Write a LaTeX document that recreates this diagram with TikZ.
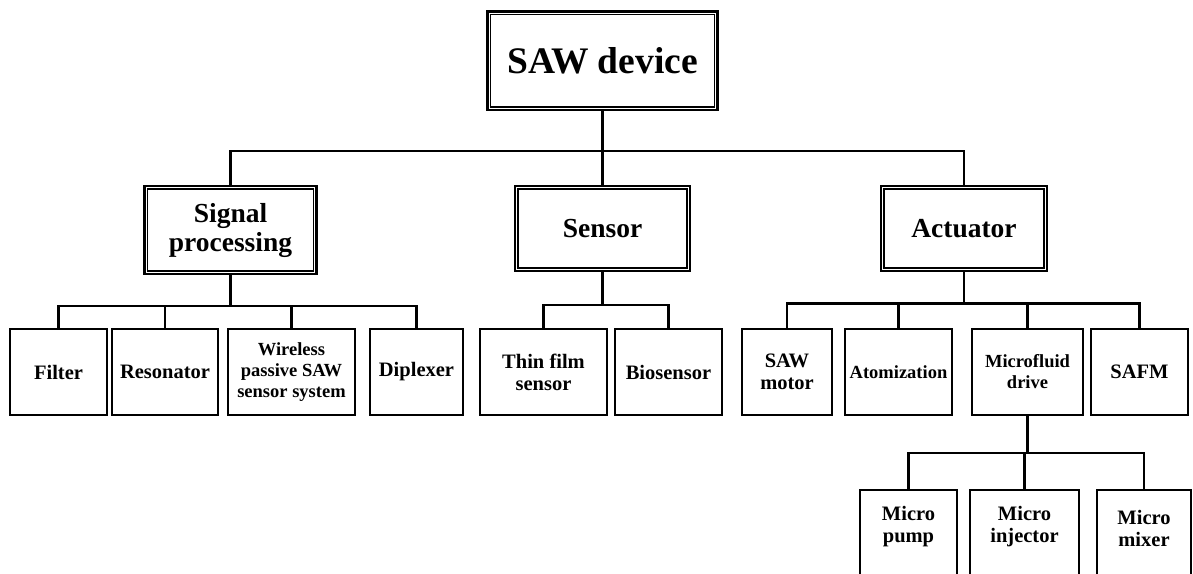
\documentclass[tikz,border=0pt]{standalone}
\usepackage{fontspec}
\setmainfont{Liberation Serif}
\begin{document}
\begin{tikzpicture}[x=1pt,y=-1pt,line join=miter,
  dbox/.style={draw, line width=2.7pt, inner sep=0pt, align=center},
  inner/.style={draw, line width=1.6pt},
  mid/.style={font=\bfseries\fontsize{27.5}{29}\selectfont},
  leaf/.style={draw, line width=2.6pt, inner sep=0pt, align=center, minimum height=86pt, font=\bfseries\fontsize{20.5}{22}\selectfont},
  small/.style={font=\bfseries\fontsize{18.5}{21}\selectfont},
  txt/.style={inner sep=0pt, align=center, font=\bfseries\fontsize{20.5}{22}\selectfont},
  conn/.style={draw, line width=2.6pt}]
\useasboundingbox (0,0) rectangle (1193,573);
\clip (0,0) rectangle (1193,573);
% top and middle level
\node[dbox, font=\bfseries\fontsize{37.5}{40}\selectfont, minimum width=229.5pt, minimum height=98.5pt] (top) at (602.5,60.75) {SAW device};
\node[dbox, mid, minimum width=172pt, minimum height=88pt] (sig) at (230.5,230) {Signal\\processing};
\node[dbox, mid, minimum width=175pt, minimum height=85pt] (sen) at (602.5,228.5) {Sensor};
\node[dbox, mid, minimum width=166pt, minimum height=85pt] (act) at (964,228.5) {Actuator};
\foreach \n in {top,sig,sen,act}
  \draw[inner] ([shift={(4.2pt,-4.2pt)}]\n.north west) rectangle ([shift={(-4.2pt,4.2pt)}]\n.south east);
% bottom row
\node[leaf, minimum width=97pt] (fil) at (58.5,372) {Filter};
\node[leaf, minimum width=106pt] (res) at (165,372) {Resonator};
\node[leaf, small, minimum width=127pt] (wps) at (291.5,372) {Wireless\\passive SAW\\sensor system};
\node[leaf, minimum width=93pt] (dip) at (416.5,372) {Diplexer};
\node[leaf, minimum width=127pt] (tfs) at (543.5,372) {Thin film\\sensor};
\node[leaf, minimum width=107pt] (bio) at (668.5,372) {Biosensor};
\node[leaf, minimum width=90pt] (mot) at (787,372) {SAW\\motor};
\node[leaf, small, minimum width=107pt] (ato) at (898.5,372) {Atomization};
\node[leaf, small, minimum width=111pt] (mfd) at (1027.5,372) {Microfluid\\drive};
\node[leaf, minimum width=97pt] (safm) at (1139.5,372) {SAFM};
% micro row (runs off the page bottom)
\node[leaf, minimum width=97pt, minimum height=120pt] (pump) at (908.5,550) {};
\node[leaf, minimum width=109pt, minimum height=120pt] (inj) at (1024.5,550) {};
\node[leaf, minimum width=94pt, minimum height=120pt] (mix) at (1144,550) {};
\node[txt] (pumpt) at (908.5,527) {Micro\\pump};
\node[txt] (injt) at (1024.5,527) {Micro\\injector};
\node[txt] (mixt) at (1144,528) {Micro\\mixer};
% connectors
\coordinate (b0) at (602.5,151);
\draw[conn] (top.south) -- (b0);
\draw[conn] (sig.north) |- (b0) -| (act.north);
\draw[conn] (b0) -- (sen.north);
\coordinate (b1) at (230.5,306);
\draw[conn] (sig.south) -- (b1);
\draw[conn] (fil.north) |- (b1) -| (dip.north);
\draw[conn] (res.north) -- (res.north |- b1);
\draw[conn] (wps.north) -- (wps.north |- b1);
\coordinate (b2) at (602.5,305);
\draw[conn] (sen.south) -- (b2);
\draw[conn] (tfs.north) |- (b2) -| (bio.north);
\coordinate (b3) at (964,303.5);
\draw[conn] (act.south) -- (b3);
\draw[conn] (mot.north) |- (b3) -| (safm.north);
\draw[conn] (ato.north) -- (ato.north |- b3);
\draw[conn] (mfd.north) -- (mfd.north |- b3);
\coordinate (b4) at (1027.5,453);
\draw[conn] (mfd.south) -- (b4);
\draw[conn] (pump.north) |- (b4) -| (mix.north);
\draw[conn] (inj.north) -- (inj.north |- b4);
\end{tikzpicture}
\end{document}
